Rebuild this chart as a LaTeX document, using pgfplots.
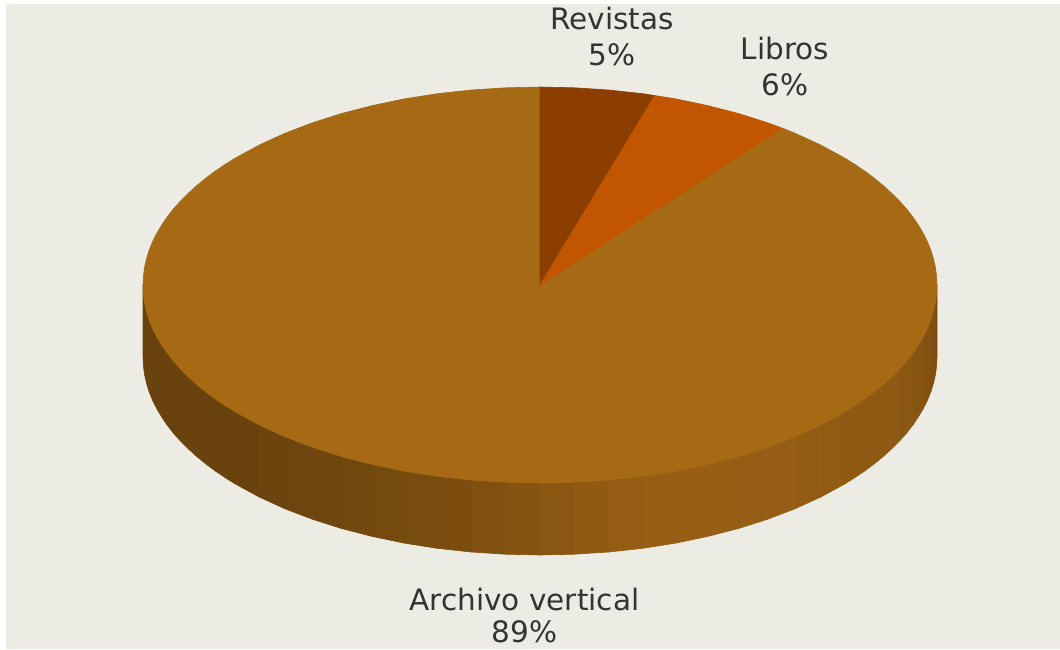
\documentclass[border=0pt]{standalone}
\usepackage{pgfplots}
\pgfplotsset{compat=1.18}
\usepackage{fontspec}
\setmainfont{DejaVu Sans}
\definecolor{bg}{HTML}{ECECE4}
\definecolor{main}{HTML}{A66A15}
\definecolor{rev}{HTML}{8B3E00}
\definecolor{lib}{HTML}{C25500}
\definecolor{txt}{HTML}{333333}
\definecolor{w01}{HTML}{7C4D10}
\definecolor{w02}{HTML}{7F4F10}
\definecolor{w03}{HTML}{825111}
\definecolor{w04}{HTML}{875412}
\definecolor{w05}{HTML}{8A5712}
\definecolor{w06}{HTML}{8D5913}
\definecolor{w07}{HTML}{8E5913}
\definecolor{w08}{HTML}{905A13}
\definecolor{w09}{HTML}{925B13}
\definecolor{w10}{HTML}{935C13}
\definecolor{w11}{HTML}{955E14}
\definecolor{w12}{HTML}{965E14}
\definecolor{w13}{HTML}{975F14}
\definecolor{w14}{HTML}{985F14}
\definecolor{w15}{HTML}{985F14}
\definecolor{w16}{HTML}{945D13}
\definecolor{w17}{HTML}{905A13}
\definecolor{w18}{HTML}{8A5712}
\definecolor{w19}{HTML}{855411}
\definecolor{w20}{HTML}{805010}
\definecolor{w21}{HTML}{7C4D0F}
\definecolor{w22}{HTML}{784B0F}
\definecolor{w23}{HTML}{754A0F}
\definecolor{w24}{HTML}{72480E}
\definecolor{w25}{HTML}{70460E}
\definecolor{w26}{HTML}{6E450E}
\definecolor{w27}{HTML}{6C440E}
\definecolor{w28}{HTML}{6A420E}
\newcommand\seg[2]{\addplot[fill=#1,draw=#1,line width=0.6pt,line join=round] coordinates {#2} -- cycle;}
\newcommand\lbl[3]{\node[anchor=base,text=txt,font=\fontsize{29.5}{29.5}\selectfont,inner sep=0pt] at (axis cs:#1,#2) {#3};}
\begin{document}
\begin{tikzpicture}
\begin{axis}[
  scale only axis, width=1060pt, height=649pt,
  xmin=0, xmax=1060, ymin=0, ymax=649, y dir=reverse,
  hide axis, no marks,
]
\addplot[fill=white,draw=none] coordinates {(0,0)(1060,0)(1060,649)(0,649)} -- cycle;
\addplot[fill=bg,draw=none] coordinates {(6,4)(1060,4)(1060,649)(6,649)} -- cycle;
% side wall
\seg{w01}{(937,285)(936.6,293.6)(935.5,302.3)(935.5,374.3)(936.6,365.6)(937,357)}
\seg{w02}{(935.5,302.3)(933.6,310.8)(931,319.4)(931,391.4)(933.6,382.8)(935.5,374.3)}
\seg{w03}{(931,319.4)(927.6,327.9)(923.5,336.2)(923.5,408.2)(927.6,399.9)(931,391.4)}
\seg{w04}{(923.5,336.2)(918.6,344.5)(913.1,352.7)(913.1,424.7)(918.6,416.5)(923.5,408.2)}
\seg{w05}{(913.1,352.7)(906.8,360.8)(899.8,368.7)(899.8,440.7)(906.8,432.8)(913.1,424.7)}
\seg{w06}{(899.8,368.7)(892.1,376.4)(883.8,384)(883.8,456)(892.1,448.4)(899.8,440.7)}
\seg{w07}{(883.8,384)(874.8,391.4)(865.2,398.6)(865.2,470.6)(874.8,463.4)(883.8,456)}
\seg{w08}{(865.2,398.6)(855,405.5)(844.1,412.3)(844.1,484.3)(855,477.5)(865.2,470.6)}
\seg{w09}{(844.1,412.3)(820.7,425)(820.7,497)(844.1,484.3)}
\seg{w10}{(820.7,425)(795.2,436.7)(795.2,508.7)(820.7,497)}
\seg{w11}{(795.2,436.7)(767.7,447.2)(767.7,519.2)(795.2,508.7)}
\seg{w12}{(767.7,447.2)(738.5,456.5)(738.5,528.5)(767.7,519.2)}
\seg{w13}{(738.5,456.5)(707.8,464.4)(707.8,536.4)(738.5,528.5)}
\seg{w14}{(707.8,464.4)(675.8,471.1)(675.8,543.1)(707.8,536.4)}
\seg{w15}{(675.8,471.1)(642.8,476.3)(642.8,548.3)(675.8,543.1)}
\seg{w16}{(642.8,476.3)(608.9,480)(608.9,552)(642.8,548.3)}
\seg{w17}{(608.9,480)(574.6,482.2)(574.6,554.2)(608.9,552)}
\seg{w18}{(574.6,482.2)(540,483)(540,555)(574.6,554.2)}
\seg{w19}{(540,483)(505.4,482.2)(505.4,554.2)(540,555)}
\seg{w20}{(505.4,482.2)(471.1,480)(471.1,552)(505.4,554.2)}
\seg{w21}{(471.1,480)(437.2,476.3)(437.2,548.3)(471.1,552)}
\seg{w22}{(437.2,476.3)(404.2,471.1)(404.2,543.1)(437.2,548.3)}
\seg{w23}{(404.2,471.1)(372.2,464.4)(372.2,536.4)(404.2,543.1)}
\seg{w24}{(372.2,464.4)(341.5,456.5)(341.5,528.5)(372.2,536.4)}
\seg{w25}{(341.5,456.5)(312.3,447.2)(312.3,519.2)(341.5,528.5)}
\seg{w26}{(312.3,447.2)(284.8,436.7)(284.8,508.7)(312.3,519.2)}
\seg{w27}{(284.8,436.7)(259.3,425)(259.3,497)(284.8,508.7)}
\seg{w28}{(259.3,425)(235.9,412.3)(225,405.5)(214.8,398.6)(205.2,391.4)(196.2,384)(187.9,376.4)(180.2,368.7)(173.2,360.8)(166.9,352.7)(161.4,344.5)(156.5,336.2)(152.4,327.9)(149,319.4)(146.4,310.8)(144.5,302.3)(143.4,293.6)(143,285)(143,357)(143.4,365.6)(144.5,374.3)(146.4,382.8)(149,391.4)(152.4,399.9)(156.5,408.2)(161.4,416.5)(166.9,424.7)(173.2,432.8)(180.2,440.7)(187.9,448.4)(196.2,456)(205.2,463.4)(214.8,470.6)(225,477.5)(235.9,484.3)(259.3,497)}
% Archivo vertical 89%
\seg{main}{(540,285)(782.2,128.1)(795.2,133.3)(820.7,145)(844.1,157.7)(855,164.5)(865.2,171.4)(874.8,178.6)(883.8,186)(892.1,193.6)(899.8,201.3)(906.8,209.2)(913.1,217.3)(918.6,225.5)(923.5,233.8)(927.6,242.1)(931,250.6)(933.6,259.2)(935.5,267.7)(936.6,276.4)(937,285)(936.6,293.6)(935.5,302.3)(933.6,310.8)(931,319.4)(927.6,327.9)(923.5,336.2)(918.6,344.5)(913.1,352.7)(906.8,360.8)(899.8,368.7)(892.1,376.4)(883.8,384)(874.8,391.4)(865.2,398.6)(855,405.5)(844.1,412.3)(820.7,425)(795.2,436.7)(767.7,447.2)(738.5,456.5)(707.8,464.4)(675.8,471.1)(642.8,476.3)(608.9,480)(574.6,482.2)(540,483)(505.4,482.2)(471.1,480)(437.2,476.3)(404.2,471.1)(372.2,464.4)(341.5,456.5)(312.3,447.2)(284.8,436.7)(259.3,425)(235.9,412.3)(225,405.5)(214.8,398.6)(205.2,391.4)(196.2,384)(187.9,376.4)(180.2,368.7)(173.2,360.8)(166.9,352.7)(161.4,344.5)(156.5,336.2)(152.4,327.9)(149,319.4)(146.4,310.8)(144.5,302.3)(143.4,293.6)(143,285)(143.4,276.4)(144.5,267.7)(146.4,259.2)(149,250.6)(152.4,242.1)(156.5,233.8)(161.4,225.5)(166.9,217.3)(173.2,209.2)(180.2,201.3)(187.9,193.6)(196.2,186)(205.2,178.6)(214.8,171.4)(225,164.5)(235.9,157.7)(259.3,145)(284.8,133.3)(312.3,122.8)(341.5,113.5)(372.2,105.6)(404.2,98.9)(437.2,93.7)(471.1,90)(505.4,87.8)(540,87)}
% Revistas
\seg{rev}{(540,285)(540,87)(574.6,87.8)(608.9,90)(642.8,93.7)(654.8,95.5)}
% Libros
\seg{lib}{(540,285)(654.8,95.5)(675.8,98.9)(707.8,105.6)(738.5,113.5)(767.7,122.8)(782.2,128.1)}
\lbl{612}{29}{Revistas}
\lbl{612}{65}{5\%}
\lbl{785}{59}{Libros}
\lbl{785}{95}{6\%}
\lbl{524.5}{610}{Archivo vertical}
\lbl{524.5}{642}{89\%}
\end{axis}
\end{tikzpicture}
\end{document}
